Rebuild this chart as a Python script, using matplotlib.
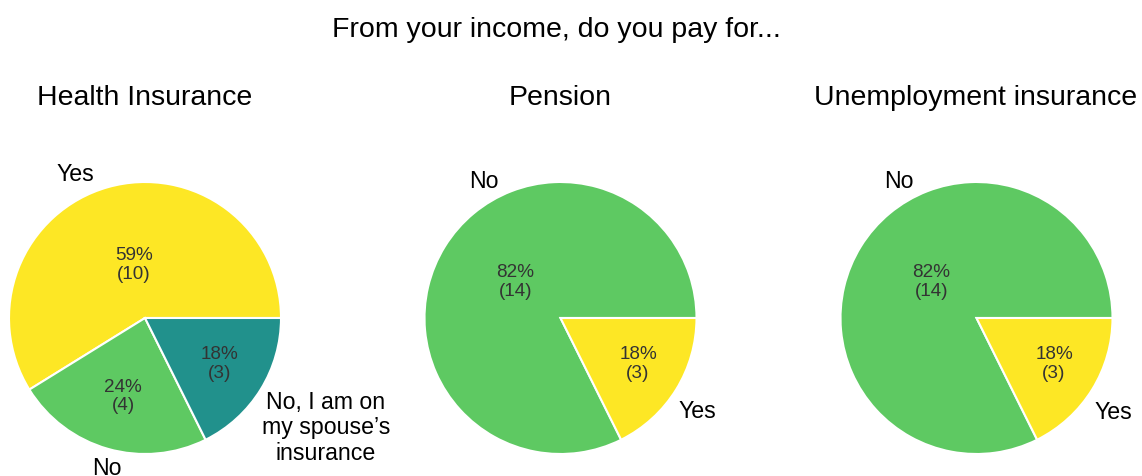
import matplotlib
matplotlib.use("Agg")
import matplotlib.pyplot as plt

plt.rcParams['font.family'] = ['Liberation Sans', 'DejaVu Sans']

suptitle = "From your income, do you pay for..."

health_labels = ["Yes", "No", "No, I am on\nmy spouse\u2019s\ninsurance"]
health_counts = [10, 4, 3]
health_colors = ["#fde725", "#5ec962", "#21918c"]

pension_labels = ["No", "Yes"]
pension_counts = [14, 3]
pension_colors = ["#5ec962", "#fde725"]

unemp_labels = ["No", "Yes"]
unemp_counts = [14, 3]
unemp_colors = ["#5ec962", "#fde725"]

W, H = 1142, 477
fig = plt.figure(figsize=(W / 100, H / 100), dpi=100)

R_PX = 136
HALF = 200  # axes half-size in pixels


def make_axes(cx, cy):
    ax = fig.add_axes([(cx - HALF) / W, 1 - (cy + HALF) / H, 2 * HALF / W, 2 * HALF / H])
    ax.set_aspect('equal')
    ax.axis('off')
    return ax


def draw(ax, counts, labels, colors, label_pos, pct_pos):
    total = sum(counts)
    wedges, texts, autotexts = ax.pie(
        counts, labels=labels, colors=colors, startangle=0, counterclock=True,
        autopct=lambda p: f"{p:.0f}%\n({round(p * total / 100)})",
        wedgeprops=dict(edgecolor='white', linewidth=1.5),
        textprops=dict(fontsize=16.7, color='black'),
        radius=1.0, frame=True,
    )
    ax.set_xlim(-HALF / R_PX, HALF / R_PX)
    ax.set_ylim(-HALF / R_PX, HALF / R_PX)
    ax.axis('off')
    for t, (x, y) in zip(texts, label_pos):
        t.set_position((x, y))
        t.set_ha('center')
        t.set_va('center')
        t.set_multialignment('center')
        t.set_linespacing(1.15)
    for t, (x, y) in zip(autotexts, pct_pos):
        t.set_position((x, y))
        t.set_fontsize(13.6)
        t.set_color('#333333')
        t.set_ha('center')
        t.set_va('center')
        t.set_linespacing(1.15)


ax1 = make_axes(145, 319)
draw(ax1, health_counts, health_labels, health_colors,
     [(-0.51, 1.06), (-0.28, -1.10), (1.33, -0.80)],
     [(-0.08, 0.40), (-0.16, -0.57), (0.55, -0.33)])

ax2 = make_axes(560.5, 319)
draw(ax2, pension_counts, pension_labels, pension_colors,
     [(-0.56, 1.01), (1.01, -0.68)],
     [(-0.33, 0.27), (0.57, -0.33)])

ax3 = make_axes(976.5, 319)
draw(ax3, unemp_counts, unemp_labels, unemp_colors,
     [(-0.57, 1.01), (1.01, -0.69)],
     [(-0.33, 0.27), (0.57, -0.33)])

fig.text(556 / W, 1 - 37 / H, suptitle, ha='center', va='baseline', fontsize=20.5)
fig.text(145 / W, 1 - 105 / H, "Health Insurance", ha='center', va='baseline', fontsize=20.5)
fig.text(560.5 / W, 1 - 105 / H, "Pension", ha='center', va='baseline', fontsize=20.5)
fig.text(975.5 / W, 1 - 105 / H, "Unemployment insurance", ha='center', va='baseline', fontsize=20.5)

fig.savefig("out.png", dpi=100, facecolor='white')
